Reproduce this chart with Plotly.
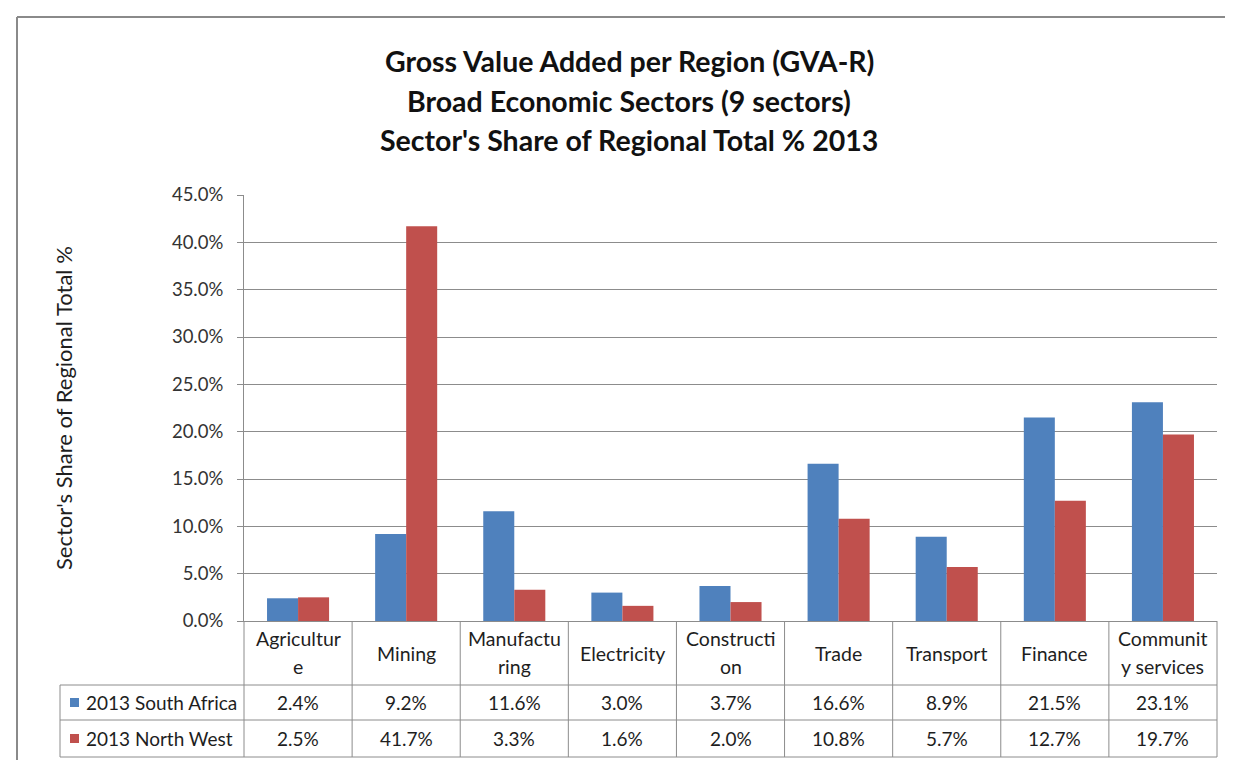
import plotly.graph_objects as go

# ---------------- data ----------------
sectors = ["Agriculture", "Mining", "Manufacturing", "Electricity", "Construction",
           "Trade", "Transport", "Finance", "Community services"]
sector_labels = [["Agricultur", "e"], ["Mining"], ["Manufactu", "ring"], ["Electricity"],
                 ["Constructi", "on"], ["Trade"], ["Transport"], ["Finance"],
                 ["Communit", "y services"]]
series_names = ["2013 South Africa", "2013 North West"]
south_africa = [2.4, 9.2, 11.6, 3.0, 3.7, 16.6, 8.9, 21.5, 23.1]
north_west = [2.5, 41.7, 3.3, 1.6, 2.0, 10.8, 5.7, 12.7, 19.7]
y_ticks = [0, 5, 10, 15, 20, 25, 30, 35, 40, 45]
y_tick_labels = [f"{v:.1f}%" for v in y_ticks]
title_lines = ["Gross Value Added per Region (GVA-R)",
               "Broad Economic Sectors (9 sectors)",
               "Sector's Share of Regional Total % 2013"]
y_title = "Sector's Share of Regional Total %"

# ---------------- geometry (pixels) ----------------
W, H = 1233, 760
L, R, T, B = 236, 1209, 187, 613
HEAD_BOT, ROW1_BOT, ROW2_BOT = 677, 712, 749
LEG_LEFT = 52
FONT = "Lato"
GRID = "#8c8c8c"
TXT = "#1e1e1e"
colors = ["#4F81BD", "#C0504D"]


def px(x):
    return (x - L) / (R - L)


def py(y):
    return (B - y) / (B - T)


fig = go.Figure()
for name, vals, col in zip(series_names, [south_africa, north_west], colors):
    fig.add_trace(go.Bar(x=sectors, y=vals, name=name, marker_color=col,
                         marker_line_width=0))

shapes = []
ann = []


def hline(y, x0, x1, color=GRID, w=1):
    shapes.append(dict(type="line", xref="paper", yref="paper", x0=px(x0), x1=px(x1),
                       y0=py(y), y1=py(y), line=dict(color=color, width=w)))


def vline_paper(xp, y0, y1, color=GRID, w=1):
    shapes.append(dict(type="line", xref="paper", yref="paper", x0=xp, x1=xp,
                       y0=py(y0), y1=py(y1), line=dict(color=color, width=w)))


# table grid
for yy in [HEAD_BOT, ROW1_BOT, ROW2_BOT]:
    hline(yy, LEG_LEFT, R)
vline_paper(px(LEG_LEFT), HEAD_BOT, ROW2_BOT)
n = len(sectors)
for i in range(n + 1):
    vline_paper(i / n, B, ROW2_BOT)

# outer frame
hline(9, 9, W + 5, color="#8a8a8a", w=2)
vline_paper(px(9), 9, H + 5, color="#8a8a8a", w=2)

# category labels in header
for i, lines in enumerate(sector_labels):
    xc = (i + 0.5) / n
    if len(lines) == 1:
        ys = [(B + HEAD_BOT) / 2]
    else:
        ys = [630, 658]
    for t, yy in zip(lines, ys):
        ann.append(dict(text=t, xref="paper", yref="paper", x=xc, y=py(yy),
                        xanchor="center", yanchor="middle", showarrow=False,
                        font=dict(family=FONT, size=19.5, color=TXT)))

# values rows + legend keys
row_centers = [(HEAD_BOT + ROW1_BOT) / 2, (ROW1_BOT + ROW2_BOT) / 2]
for vals, name, col, yc in zip([south_africa, north_west], series_names, colors, row_centers):
    for i, v in enumerate(vals):
        ann.append(dict(text=f"{v:.1f}%", xref="paper", yref="paper", x=(i + 0.5) / n,
                        y=py(yc), xanchor="center", yanchor="middle", showarrow=False,
                        font=dict(family=FONT, size=19, color=TXT)))
    shapes.append(dict(type="rect", xref="paper", yref="paper", x0=px(62), x1=px(71),
                       y0=py(yc - 4.5), y1=py(yc + 4.5), fillcolor=col, line=dict(width=0)))
    ann.append(dict(text=name, xref="paper", yref="paper", x=px(76), y=py(yc),
                    xanchor="left", yanchor="middle", showarrow=False,
                    font=dict(family=FONT, size=19, color=TXT)))

# title
for t, yy in zip(title_lines, [53, 93, 132]):
    ann.append(dict(text=f"<b>{t}</b>", xref="paper", yref="paper", x=px(621), y=py(yy),
                    xanchor="center", yanchor="middle", showarrow=False,
                    font=dict(family=FONT, size=28.5, color="#111111")))

# y-axis title
ann.append(dict(text=y_title, xref="paper", yref="paper", x=px(55), y=py(400),
                xanchor="center", yanchor="middle", showarrow=False, textangle=-90,
                font=dict(family=FONT, size=22, color=TXT)))

fig.update_layout(
    width=W, height=H,
    margin=dict(l=L, r=W - R, t=T, b=H - B, pad=0),
    paper_bgcolor="white", plot_bgcolor="white",
    barmode="group", bargap=0.426, bargroupgap=0,
    showlegend=False,
    shapes=shapes, annotations=ann,
    xaxis=dict(showticklabels=False, showgrid=False, showline=True, linecolor=GRID,
               linewidth=1, ticks="", zeroline=False),
    yaxis=dict(range=[0, 45], tickmode="array", tickvals=y_ticks, ticktext=y_tick_labels,
               showgrid=True, gridcolor=GRID, gridwidth=1, showline=True,
               linecolor=GRID, linewidth=1, ticks="outside", ticklen=6, tickcolor=GRID,
               zeroline=False, ticklabelstandoff=10,
               tickfont=dict(family=FONT, size=18.5, color="#333333")),
)

fig.write_html("out.html")
